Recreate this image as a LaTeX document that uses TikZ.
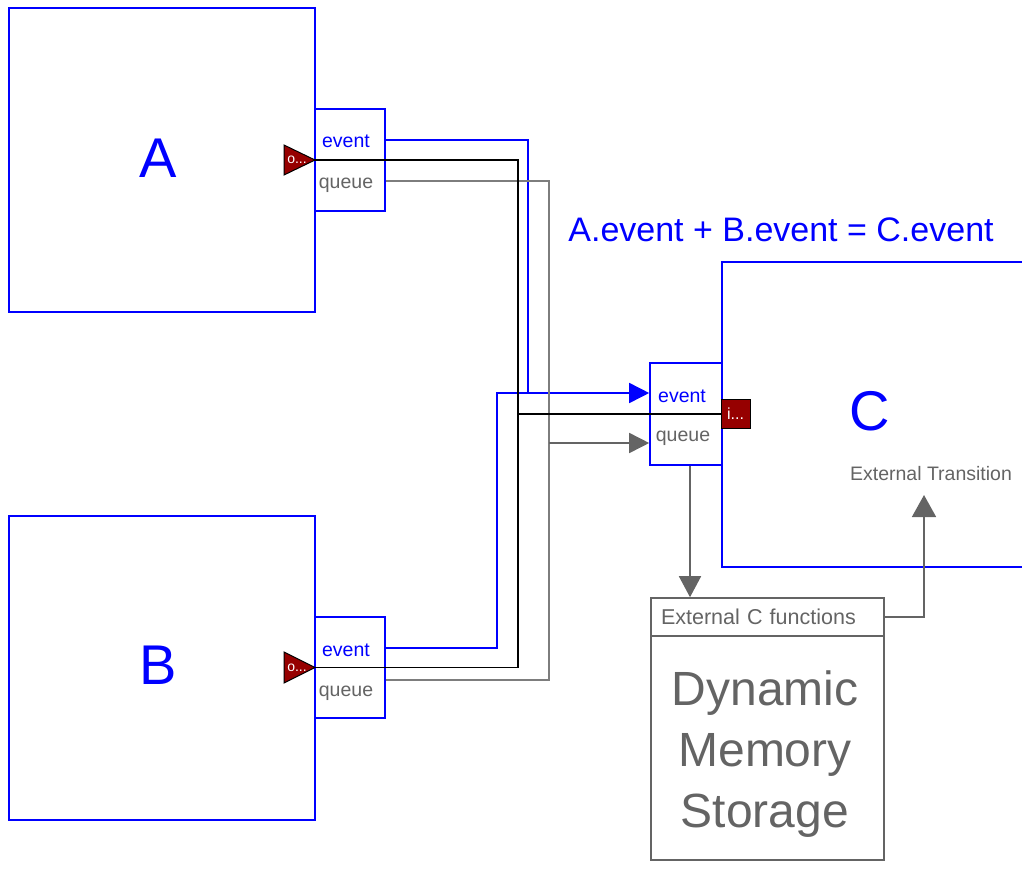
\documentclass[tikz,border=0pt]{standalone}
\usepackage{fontspec}
\setmainfont{Liberation Sans}
\usetikzlibrary{arrows.meta,calc}

\definecolor{portred}{RGB}{150,0,0}
\definecolor{wiregray}{RGB}{125,125,125}
\definecolor{txtgray}{RGB}{100,100,100}

\newcommand{\portfont}{\fontsize{19.5}{22}\selectfont}
\newcommand{\bigletter}{\fontsize{56}{60}\selectfont}

\begin{document}
\begin{tikzpicture}[x=1pt, y=-1pt, >=Triangle,
  block/.style={draw=blue, line width=1.6pt, inner sep=0pt},
  portbox/.style={draw=blue, line width=1.6pt, fill=white, inner sep=0pt},
  evtxt/.style={text=blue, font=\portfont, inner sep=0pt},
  qutxt/.style={text=txtgray, font=\portfont, inner sep=0pt},
  biglbl/.style={text=blue, font=\bigletter, inner sep=0pt},
  bluewire/.style={draw=blue, line width=1.6pt},
  blackwire/.style={draw=black, line width=1.6pt},
  graywire/.style={draw=wiregray, line width=1.6pt},
  tipped/.style={-{Triangle[length=20pt,width=20pt]}},
  extbox/.style={draw=txtgray, line width=1.6pt, inner sep=0pt}]
  \useasboundingbox (0,0) rectangle (1022,870);

  % blocks
  \node[block, minimum width=306pt, minimum height=304pt] (A) at (162,160) {};
  \node[block, minimum width=306pt, minimum height=304pt] (B) at (162,668) {};
  \node[inner sep=0pt, minimum width=300pt, minimum height=305pt] (C) at (872,414.5) {};
  \draw[blue, line width=1.6pt] (C.north east) -- (C.north west) -- (C.south west) -- (C.south east);
  \node[biglbl] (Alab) at (158,158) {A};
  \node[biglbl] (Blab) at (158,665) {B};
  \node[biglbl] (Clab) at (870,411) {C};
  \node[text=txtgray, font=\fontsize{19.5}{22}\selectfont] (ExtTr) at (931,474) {External Transition};
  \node[text=blue, font=\fontsize{34}{36}\selectfont] (title) at (781,230) {A.event + B.event = C.event};

  % ports
  \node[portbox, minimum width=70pt, minimum height=102pt] (Aport) at (350,160) {};
  \node[portbox, minimum width=70pt, minimum height=101pt] (Bport) at (350,667.5) {};
  \node[portbox, minimum width=72pt, minimum height=102pt] (Cport) at (686,414) {};
  \node[evtxt] (Aev) at (346,141) {event};
  \node[qutxt] (Aqu) at (346,185) {queue};
  \node[evtxt] (Bev) at (346,650) {event};
  \node[qutxt] (Bqu) at (346,693) {queue};
  \node[evtxt] (Cev) at (682,396) {event};
  \node[qutxt] (Cqu) at (683,438) {queue};

  % wires
  \coordinate (jEa) at (528,393);
  \coordinate (jEb) at (497,393);
  \coordinate (jK) at (518,414);
  \coordinate (jQ) at (549,443);
  \draw[bluewire] ($(Aport.east |- Aev)+(0,-1)$) -| (jEa);
  \draw[bluewire, tipped] ($(Bport.east |- Bev)+(0,-2)$) -| (jEb) -- (Cport.west |- jEb);
  \draw[graywire] ($(Aport.east |- Aqu)+(0,-4)$) -| (jQ);
  \draw[graywire] ($(Bport.east |- Bqu)+(0,-13)$) -| (jQ);
  \draw[graywire, tipped, draw=txtgray, fill=txtgray] (jQ) -- (Cport.west |- jQ);
  \draw[blackwire] (Aport.west |- Aport.center) -| (jK);
  \draw[blackwire] (Bport.west |- Bport.center) -| (jK);

  % in / out markers
  \filldraw[fill=portred, draw=black, line width=1pt] (284,145) -- (315,160) -- (284,175) -- cycle;
  \filldraw[fill=portred, draw=black, line width=1pt] (284,652) -- (315,667.5) -- (284,683) -- cycle;
  \node[text=white, font=\fontsize{14}{15}\selectfont, inner sep=0pt] (Aout) at (297,160) {o...};
  \node[text=white, font=\fontsize{14}{15}\selectfont, inner sep=0pt] (Bout) at (297,667.5) {o...};
  \node[fill=portred, draw=black, line width=1pt, minimum width=29pt, minimum height=29pt,
    inner sep=0pt, text=white, font=\fontsize{16}{17}\selectfont] (Cin) at (735.5,414) {i...};
  \draw[blackwire] (jK) -- (Cin.west);

  % external storage
  \node[extbox, minimum width=233pt, minimum height=38pt, text width=213pt, inner xsep=10pt,
    align=left, text=txtgray, font=\fontsize{21.5}{23}\selectfont] (EXTH) at (767.5,617) {External C functions};
  \node[extbox, minimum width=233pt, minimum height=224pt] (EXTB) at (767.5,748) {};
  \node[align=center, text=txtgray, font=\fontsize{48}{61}\selectfont] (DMS) at (765,754) {Dynamic\\Memory\\Storage};
  \coordinate (ETin) at (924,495);
  \draw[draw=txtgray, fill=txtgray, line width=1.6pt, -{Triangle[length=21pt,width=22pt]}]
    ([xshift=4pt]Cport.south) -- ([xshift=4pt]Cport.south |- EXTH.north);
  \draw[draw=txtgray, line width=1.6pt, -{Triangle[length=22pt,width=24pt]}] (EXTH.east) -| (ETin);
\end{tikzpicture}
\end{document}
